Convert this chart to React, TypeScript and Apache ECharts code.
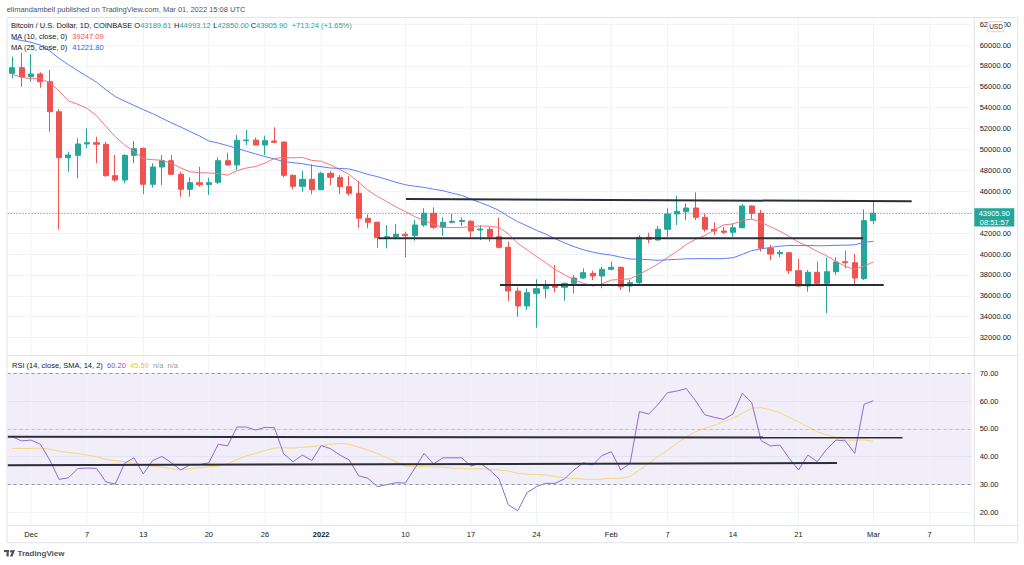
import React, { useEffect, useRef } from "react";
import * as echarts from "echarts";

// ---------- categories (calendar days on the time axis) ----------
const DAY_MS = 86400000;
const FIRST_DAY = Date.UTC(2021, 10, 29);
const AXIS_DAYS = 103; // Nov 29 2021 .. Mar 11 2022
const dates: string[] = Array.from({ length: AXIS_DAYS }, (_, i) =>
  new Date(FIRST_DAY + i * DAY_MS).toISOString().slice(0, 10)
);

const timeTickDates = [
  "2021-12-01", "2021-12-07", "2021-12-13", "2021-12-20", "2021-12-26",
  "2022-01-01", "2022-01-10", "2022-01-17", "2022-01-24", "2022-02-01",
  "2022-02-07", "2022-02-14", "2022-02-21", "2022-03-01", "2022-03-07",
];
const timeTickLabels = ["Dec", "7", "13", "20", "26", "2022", "10", "17", "24", "Feb", "7", "14", "21", "Mar", "7"];

// ---------- BTC/USD daily candles, Nov 29 2021 .. Mar 1 2022 ----------
const opens = [
  57292, 57828,
  56960, 57225, 56488, 53617, 49215, 49445, 50526, 50650, 50500, 47500, 47081, 49445, 50115, 46670, 48325, 48928,
  47627, 46191, 46823, 46632, 46860, 48928, 48517, 50840, 50900, 50431, 50813, 50718, 47531, 46478, 47148,
  46153, 47722, 47340, 46440, 45809, 43416, 43033, 41560, 41656, 41885, 41751, 42775, 43895, 42555, 43033, 43100,
  43129, 42297, 42364, 41656, 40641, 36459, 35024, 36240, 36680, 37005, 36813, 37196, 37703, 38147, 37895,
  38536, 38728, 36938, 37254, 41598, 41340, 42364, 43828, 44050, 44402, 43512, 42364, 42201, 42077, 42517, 44593,
  43895, 40545, 40029, 40124, 38402, 36938, 38249, 37196, 38306, 39263, 39167, 37640,
  43189.61,
];
const highs = [
  58880, 59263,
  59110, 57388, 57608, 53847, 49790, 51072, 52029, 51225, 50746, 49474, 49550, 50813, 50172, 48680, 49474, 49474,
  47876, 47340, 48354, 47301, 49253, 49694, 51387, 51866, 51129, 51320, 52124, 50750, 47600, 47971, 48584,
  47876, 47943, 47560, 47464, 47014, 43799, 43100, 42775, 42871, 42134, 43254, 44373, 44469, 43512, 43828, 43512,
  43250, 42746, 42613, 43474, 41177, 36813, 36718, 37579, 37500, 38947, 37250, 37990, 38632, 38402, 38785,
  39263, 38800, 37512, 41818, 42038, 42679, 44373, 45550, 44852, 45904, 43895, 43033, 42600, 42938, 44785, 44650,
  44211, 40861, 40383, 40150, 39522, 38469, 39263, 39684, 39684, 40316, 40000, 44277,
  44993.12,
];
const lows = [
  56813, 56010,
  56488, 55914, 51703, 42333, 47876, 47244, 50115, 48680, 47400, 46919, 46762, 48680, 45742, 46344, 46603, 47560,
  45483, 45483, 46440, 45646, 46699, 48470, 48038, 50431, 50400, 49474, 50593, 47340, 46191, 45962, 45713,
  46100, 46603, 45742, 45579, 42517, 42459, 40603, 40545, 41407, 39684, 41273, 42600, 42364, 41751, 42938, 42679,
  41598, 41340, 41177, 40545, 35502, 34000, 34641, 32947, 35761, 36335, 35531, 36239, 37600, 37512, 36718,
  38450, 36555, 36335, 37129, 41024, 41300, 41656, 42775, 43254, 43254, 42134, 41818, 41900, 41656, 42450, 43321,
  40220, 39426, 39684, 38086, 36850, 36393, 37033, 34325, 37990, 38632, 37033, 37512,
  42850.0,
];
const closes = [
  57828, 56938,
  57225, 56488, 53617, 49215, 49474, 50526, 50650, 50500, 47493, 47081, 49445, 50077, 46670, 48325, 48928, 47627,
  46191, 46823, 46632, 46823, 48928, 48517, 50880, 50910, 50431, 50848, 50689, 47531, 46478, 47148, 46153,
  47722, 47340, 46440, 45809, 43416, 43033, 41560, 41656, 41885, 41751, 42775, 43895, 42555, 43033, 43129, 43200,
  42201, 42392, 41656, 40641, 36459, 35024, 36297, 36680, 37005, 36813, 37196, 37703, 38211, 37895, 38536,
  38728, 36871, 37254, 41598, 41407, 42364, 43828, 44086, 44402, 43512, 42364, 42201, 42077, 42517, 44593, 43895,
  40545, 40000, 40163, 38402, 36938, 38249, 37196, 38306, 39234, 39167, 37703, 43192.66,
  43905.9,
];
// closes before the visible window (Nov 5 .. Nov 28), used by the moving averages
const priorCloses = [
  61006, 61470, 63273, 67525, 66947, 64882, 64774, 64122, 64380, 65520, 63620, 60087,
  60352, 56896, 58117, 59714, 58662, 56276, 57566, 57163, 58960, 53727, 54722, 57274,
];

// ---------- RSI pane ----------
const rsi = [
  47.2, 45.7,
  46.0, 44.5, 38.8, 31.8, 32.4, 35.7, 35.9, 35.8, 30.9, 30.1, 37.6, 39.6, 33.8, 38.6, 40.1, 37.8,
  35.2, 37.1, 37.1, 37.8, 44.5, 43.9, 50.7, 50.7, 49.6, 50.6, 50.5, 41.0, 38.2, 40.6, 38.6,
  44.0, 42.9, 40.6, 38.8, 33.1, 32.2, 29.2, 29.9, 30.6, 30.5, 35.8, 41.2, 37.4, 39.6, 39.6, 39.6,
  36.6, 37.6, 35.2, 32.0, 22.6, 20.5, 27.0, 29.2, 30.4, 30.4, 32.0, 35.2, 37.8, 37.0, 40.4,
  41.8, 35.2, 37.6, 56.3, 55.4, 58.9, 63.1, 63.7, 64.6, 60.2, 55.1, 54.2, 53.5, 55.4, 62.9, 59.5,
  45.8, 43.9, 44.2, 39.4, 35.2, 40.6, 38.2, 42.7, 46.0, 45.7, 41.2, 58.9,
  60.2,
];
const rsiMa = [
  43.0, 43.0,
  43.0, 43.1, 42.7, 42.0, 41.5, 41.2, 40.6, 40.0, 39.0, 38.6, 38.2, 37.6, 37.0, 36.6, 36.2, 35.7,
  35.2, 35.8, 36.0, 36.4, 36.6, 37.4, 39.0, 40.3, 41.2, 42.2, 43.1, 43.2, 43.1, 43.4, 43.6,
  44.0, 44.5, 44.8, 44.5, 43.4, 42.4, 41.2, 39.6, 38.1, 36.6, 36.4, 36.4, 36.3, 36.2, 35.9, 35.8,
  35.6, 35.6, 35.4, 35.2, 34.8, 34.0, 33.7, 33.6, 33.4, 32.8, 32.4, 32.1, 31.9, 31.8, 31.9,
  32.2, 32.2, 32.8, 35.2, 37.6, 40.0, 42.4, 44.8, 47.2, 49.0, 50.3, 51.4, 52.6, 53.9, 55.7, 57.5,
  57.7, 56.9, 55.9, 54.2, 52.6, 50.8, 49.0, 47.9, 47.0, 46.0, 46.0, 46.0,
  45.59,
];

// author-drawn horizontal lines: [dayIndex, value] end points
const priceTrendLines = [
  [[42.06, 45263], [96.09, 45043]],
  [[39.1, 41502], [90.9, 41502]],
  [[52.1, 37033], [93.1, 37033]],
];
const rsiTrendLines = [
  [[-0.5, 47.2], [95.1, 46.9]],
  [[-0.5, 36.9], [88.1, 37.7]],
];

// legend texts
const ma10Legend = "39247.09";
const ma25Legend = "41221.80";
const countdown = "08:51:57";
const credit = "elimandambell published on TradingView.com, Mar 01, 2022 15:08 UTC";
const symbolTitle = "Bitcoin / U.S. Dollar, 1D, COINBASE";
const rsiTitle = "RSI (14, close, SMA, 14, 2)";

// pane extents
const PRICE_MIN = 30000;
const PRICE_MAX = 62632;
const PRICE_PANE_BOTTOM = 30335;
const RSI_MIN = 10;
const RSI_MAX = 76.35;
const RSI_PANE_BOTTOM = 15.1;

const UP = "#26a69a";
const DOWN = "#ef5350";
const TXT = "#131722";
const GRID = "#f0f3fa";
const FRAME = "#e0e3eb";
const FONT = "'Liberation Sans', Arial, sans-serif";
const FS = 7.5;

function sma(period: number): number[] {
  const all = [...priorCloses, ...closes];
  return closes.map((_, i) => {
    const end = priorCloses.length + i;
    let s = 0;
    for (let k = end - period + 1; k <= end; k++) s += all[k];
    return +(s / period).toFixed(2);
  });
}

function buildOption(): any {
  const ma10 = sma(10);
  const ma25 = sma(25);
  const last = closes.length - 1;
  const tickSet = new Set(timeTickDates);
  const labelOf: Record<string, string> = {};
  timeTickDates.forEach((d, k) => (labelOf[d] = timeTickLabels[k]));
  const tickIdx = timeTickDates.map((d) => dates.indexOf(d));

  const vGrid = (xAxisIndex: number, yAxisIndex: number, top: number, bottom: number) =>
    tickIdx.map((i) => ({
      type: "line",
      xAxisIndex,
      yAxisIndex,
      z: 1,
      silent: true,
      symbol: "none",
      lineStyle: { color: GRID, width: 1 },
      data: [[i, top], [i, bottom]],
    }));

  const trend = (lines: number[][][], xAxisIndex: number, yAxisIndex: number) =>
    lines.map((seg) => ({
      type: "line",
      xAxisIndex,
      yAxisIndex,
      z: 6,
      silent: true,
      symbol: "none",
      lineStyle: { color: "#2a2e39", width: 2 },
      data: seg,
    }));

  const yLabel = {
    fontSize: FS,
    color: TXT,
    fontFamily: FONT,
    margin: 8,
    showMinLabel: false,
    showMaxLabel: false,
    formatter: (v: number) => v.toFixed(2),
  };

  return {
    animation: false,
    backgroundColor: "#ffffff",
    grid: [
      { left: 7.6, right: 52.3, top: 17.5, height: 341 },
      { left: 7.6, right: 52.3, top: 356, height: 183.8 },
    ],
    xAxis: [
      {
        type: "category", gridIndex: 0, data: dates, boundaryGap: true,
        axisLine: { show: false }, axisTick: { show: false }, axisLabel: { show: false }, splitLine: { show: false },
      },
      {
        type: "category", gridIndex: 1, data: dates, boundaryGap: true,
        axisLine: { show: false }, axisTick: { show: false }, splitLine: { show: false },
        axisLabel: {
          interval: (_i: number, v: string) => tickSet.has(v),
          formatter: (v: string) => (labelOf[v] === "2022" ? "{b|2022}" : labelOf[v] || ""),
          margin: -11.8,
          fontSize: FS,
          lineHeight: 12,
          color: TXT,
          fontFamily: FONT,
          rich: { b: { fontWeight: "bold", fontSize: FS, fontFamily: FONT, color: TXT } },
        },
      },
      { type: "value", gridIndex: 0, min: -0.5, max: AXIS_DAYS - 0.5, show: false },
      { type: "value", gridIndex: 1, min: -0.5, max: AXIS_DAYS - 0.5, show: false },
    ],
    yAxis: [
      {
        type: "value", gridIndex: 0, position: "right", min: PRICE_MIN, max: PRICE_MAX, interval: 2000,
        axisLine: { show: false }, axisTick: { show: false }, axisLabel: yLabel,
        splitLine: { show: true, showMinLine: false, showMaxLine: false, lineStyle: { color: GRID, width: 1 } },
      },
      {
        type: "value", gridIndex: 1, position: "right", min: RSI_MIN, max: RSI_MAX, interval: 10,
        axisLine: { show: false }, axisTick: { show: false }, axisLabel: yLabel,
        splitLine: { show: true, showMinLine: false, showMaxLine: false, lineStyle: { color: GRID, width: 1 } },
      },
    ],
    series: [
      ...vGrid(2, 0, PRICE_MAX, PRICE_PANE_BOTTOM),
      ...vGrid(3, 1, RSI_MAX, RSI_PANE_BOTTOM),
      {
        type: "candlestick",
        xAxisIndex: 0,
        yAxisIndex: 0,
        z: 2,
        barWidth: "60%",
        data: opens.map((o, i) => [o, closes[i], lows[i], highs[i]]),
        itemStyle: { color: UP, color0: DOWN, borderColor: UP, borderColor0: DOWN, borderWidth: 1 },
        markLine: {
          silent: true,
          symbol: ["none", "none"],
          label: { show: false },
          lineStyle: { color: UP, type: [1, 2], width: 1 },
          data: [{ yAxis: closes[last] }],
        },
      },
      {
        type: "line", xAxisIndex: 0, yAxisIndex: 0, z: 4, silent: true, symbol: "none",
        lineStyle: { color: "#f4767e", width: 1 }, data: ma10,
      },
      {
        type: "line", xAxisIndex: 0, yAxisIndex: 0, z: 4, silent: true, symbol: "none",
        lineStyle: { color: "#5b7ff7", width: 1 }, data: ma25,
      },
      {
        type: "line", xAxisIndex: 1, yAxisIndex: 1, z: 4, silent: true, symbol: "none",
        lineStyle: { color: "#8c6ccf", width: 1 }, data: rsi,
        markArea: {
          silent: true,
          itemStyle: { color: "rgba(126,87,194,0.1)" },
          data: [[{ yAxis: 70 }, { yAxis: 30 }]],
        },
        markLine: {
          silent: true,
          symbol: ["none", "none"],
          label: { show: false },
          lineStyle: { color: "#9598a1", type: [3, 3], width: 1 },
          data: [
            { yAxis: 70 },
            { yAxis: 50, lineStyle: { color: "rgba(149,152,161,0.5)", type: [3, 3], width: 1 } },
            { yAxis: 30 },
          ],
        },
      },
      {
        type: "line", xAxisIndex: 1, yAxisIndex: 1, z: 3, silent: true, symbol: "none",
        lineStyle: { color: "#f3d77a", width: 1 }, data: rsiMa,
      },
      ...trend(priceTrendLines, 2, 0),
      ...trend(rsiTrendLines, 3, 1),
    ],
  };
}

function buildGraphics(priceY: number): any[] {
  const last = closes.length - 1;
  const change = closes[last] - closes[last - 1];
  const pct = (change / closes[last - 1]) * 100;
  const sign = change >= 0 ? "+" : "";
  const line = (id: string, x1: number, y1: number, x2: number, y2: number) => ({
    type: "line", id, z: 10, silent: true,
    shape: { x1, y1, x2, y2 },
    style: { stroke: FRAME, lineWidth: 1 },
  });
  const text = (id: string, x: number, y: number, t: string, fill: string, extra: any = {}) => ({
    type: "text", id, x, y, z: 20, silent: true,
    style: { text: t, fill, fontSize: FS, fontFamily: FONT, verticalAlign: "middle", align: "left", ...extra },
  });
  const richPart = (fill: string) => ({ fill, fontSize: FS, fontFamily: FONT });
  const ohlc = (id: string, x: number, letter: string, v: number) => ({
    type: "text", id, x, y: 25.7, z: 20, silent: true,
    style: {
      text: `{l|${letter}}{v|${v.toFixed(2)}}`,
      fontSize: FS, fontFamily: FONT, verticalAlign: "middle",
      rich: { l: richPart(TXT), v: richPart(UP) },
    },
  });
  return [
    // frame
    line("f-top", 7, 17.5, 1017.7, 17.5),
    line("f-left", 7, 17.5, 7, 542.7),
    line("f-right", 1017.7, 17.5, 1017.7, 542.7),
    line("f-axis", 974.3, 17.5, 974.3, 542.7),
    line("f-pane", 7, 355.5, 1017.7, 355.5),
    line("f-time", 7, 525.7, 1017.7, 525.7),
    line("f-bottom", 7, 542.7, 1017.7, 542.7),
    // header credit
    text("credit", 6.7, 9, credit, "#50535e"),
    // legends
    text("title", 11, 25.7, symbolTitle, TXT),
    ohlc("o", 134.3, "O", opens[last]),
    ohlc("h", 174, "H", highs[last]),
    ohlc("l", 213.3, "L", lows[last]),
    ohlc("c", 250.7, "C", closes[last]),
    text("chg", 291.7, 25.7, `${sign}${change.toFixed(2)} (${sign}${pct.toFixed(2)}%)`, UP),
    text("ma10l", 11, 36.7, "MA (10, close, 0)", TXT),
    text("ma10v", 72.3, 36.7, ma10Legend, DOWN),
    text("ma25l", 11, 47.7, "MA (25, close, 0)", TXT),
    text("ma25v", 72.3, 47.7, ma25Legend, "#2962ff"),
    {
      type: "text", id: "rsi-legend", x: 12, y: 365, z: 20, silent: true,
      style: {
        text: `{t|${rsiTitle}}  {p|${rsi[rsi.length - 1].toFixed(2)}}  {y|${rsiMa[rsiMa.length - 1].toFixed(2)}}  {g|n/a}  {g|n/a}`,
        fontSize: FS, fontFamily: FONT, verticalAlign: "middle",
        rich: { t: richPart(TXT), p: richPart("#7e57c2"), y: richPart("#e8c33c"), g: richPart("#9598a1") },
      },
    },
    // USD badge
    {
      type: "rect", id: "usd-bg", z: 30, silent: true,
      shape: { x: 987.7, y: 21.7, width: 16.6, height: 10, r: 2 },
      style: { fill: "#ffffff", stroke: "#d1d4dc", lineWidth: 1 },
    },
    {
      type: "text", id: "usd", x: 996, y: 26.9, z: 31, silent: true,
      style: { text: "USD", fill: TXT, fontSize: 6.5, fontFamily: FONT, align: "center", verticalAlign: "middle" },
    },
    // last price label
    {
      type: "rect", id: "px-bg", z: 30, silent: true,
      shape: { x: 974.3, y: priceY - 5, width: 40, height: 18.4 },
      style: { fill: UP },
    },
    {
      type: "text", id: "px", x: 994.3, y: priceY, z: 31, silent: true,
      style: { text: closes[last].toFixed(2), fill: "#ffffff", fontSize: FS, fontFamily: FONT, align: "center", verticalAlign: "middle" },
    },
    {
      type: "text", id: "px-cd", x: 994.3, y: priceY + 9, z: 31, silent: true,
      style: { text: countdown, fill: "#ffffff", fontSize: FS, fontFamily: FONT, align: "center", verticalAlign: "middle" },
    },
    // TradingView mark
    {
      type: "rect", id: "tv1", z: 20, silent: true,
      shape: { x: 4, y: 550, width: 5, height: 2 }, style: { fill: "#50535e" },
    },
    {
      type: "rect", id: "tv2", z: 20, silent: true,
      shape: { x: 6.5, y: 550, width: 2.2, height: 6.5 }, style: { fill: "#50535e" },
    },
    {
      type: "circle", id: "tv3", z: 20, silent: true,
      shape: { cx: 11, cy: 551.2, r: 1.2 }, style: { fill: "#50535e" },
    },
    {
      type: "polygon", id: "tv4", z: 20, silent: true,
      shape: { points: [[12.5, 550], [15, 550], [12.5, 556.5], [10, 556.5]] }, style: { fill: "#50535e" },
    },
    text("tv", 17.5, 553.5, "TradingView", "#50535e", { fontSize: 8, fontWeight: "bold" }),
  ];
}

export default function App() {
  const ref = useRef<HTMLDivElement>(null);
  useEffect(() => {
    if (!ref.current) return;
    const chart = echarts.init(ref.current, null, { renderer: "svg" });
    chart.setOption(buildOption());
    const py = chart.convertToPixel({ yAxisIndex: 0 }, closes[closes.length - 1]) as number;
    chart.setOption({ graphic: buildGraphics(py) });
    return () => chart.dispose();
  }, []);
  return (
    <div
      ref={ref}
      style={{ position: "fixed", left: 0, top: 0, width: 1024, height: 565, background: "#ffffff" }}
    />
  );
}
